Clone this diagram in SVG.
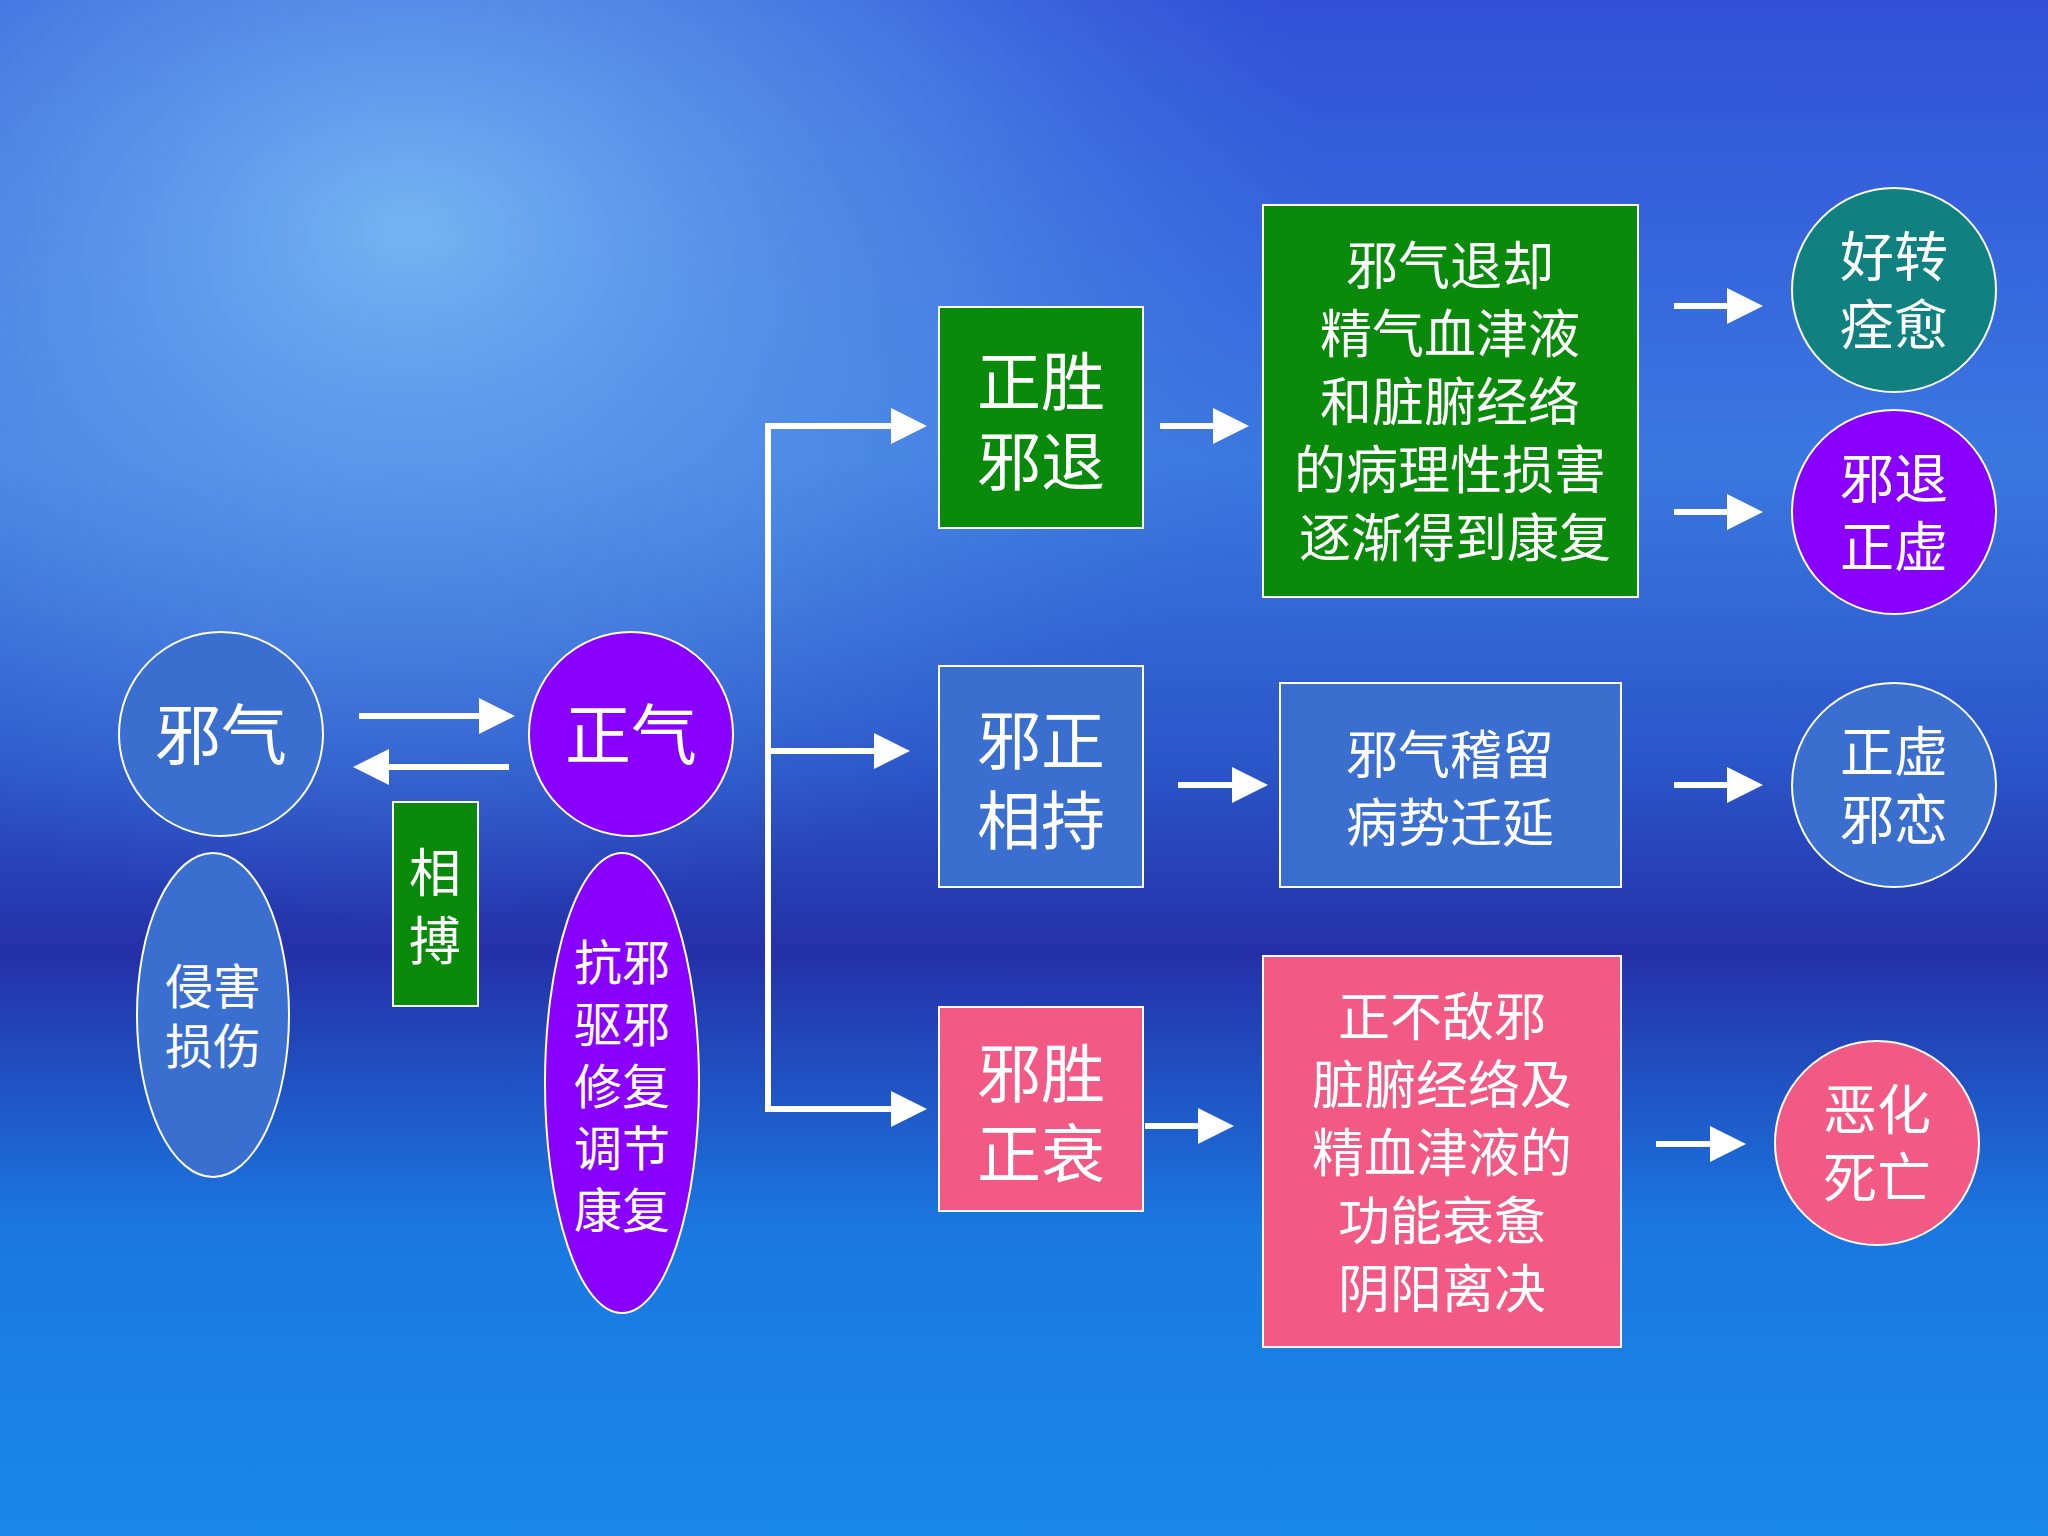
<svg xmlns="http://www.w3.org/2000/svg" width="2048" height="1536" viewBox="0 0 2048 1536">
<defs>
<linearGradient id="bg" x1="0" y1="0" x2="0" y2="1">
<stop offset="0" stop-color="#3050d8"/>
<stop offset="0.3" stop-color="#3a78e0"/>
<stop offset="0.5" stop-color="#2a55c8"/>
<stop offset="0.62" stop-color="#2530a8"/>
<stop offset="0.8" stop-color="#1a78e0"/>
<stop offset="1" stop-color="#1a88e8"/>
</linearGradient>
<radialGradient id="glow" cx="0.2" cy="0.15" r="0.45">
<stop offset="0" stop-color="#78b8f4" stop-opacity="0.95"/>
<stop offset="0.6" stop-color="#5a98ea" stop-opacity="0.5"/>
<stop offset="1" stop-color="#4a80e0" stop-opacity="0"/>
</radialGradient>
<marker id="ah" markerWidth="6" markerHeight="6" refX="5" refY="3" orient="auto" markerUnits="strokeWidth">
<path d="M0,0 L6,3 L0,6 Z" fill="#fff"/>
</marker>
<style>
.t{font-family:"Noto Sans CJK SC",sans-serif;fill:#fff;text-anchor:middle}
.s{stroke:#fff;stroke-width:2}
.c{stroke:#fff;stroke-width:6;fill:none}
.ca{stroke:#fff;stroke-width:6;fill:none;marker-end:url(#ah)}
</style>
</defs>
<rect width="2048" height="1536" fill="url(#bg)"/>
<rect width="2048" height="1536" fill="url(#glow)"/>
<g id="connectors">
<line class="ca" x1="359" y1="716" x2="509" y2="716"/>
<line class="ca" x1="509" y1="767" x2="359" y2="767"/>
<polyline class="c" points="921,426 768,426 768,1109 921,1109"/>
<line class="ca" x1="768" y1="426" x2="921" y2="426"/>
<line class="ca" x1="768" y1="751" x2="904" y2="751"/>
<line class="ca" x1="768" y1="1109" x2="921" y2="1109"/>
<line class="ca" x1="1160" y1="426" x2="1243" y2="426"/>
<line class="ca" x1="1178" y1="785" x2="1262" y2="785"/>
<line class="ca" x1="1145" y1="1126" x2="1228" y2="1126"/>
<line class="ca" x1="1674" y1="306" x2="1757" y2="306"/>
<line class="ca" x1="1674" y1="512" x2="1757" y2="512"/>
<line class="ca" x1="1674" y1="785" x2="1757" y2="785"/>
<line class="ca" x1="1656" y1="1144" x2="1740" y2="1144"/>
</g>
<g id="xieqi"><circle class="s" cx="221" cy="734" r="102" fill="#3a6fd0"/><text class="t" x="221" y="759" font-size="66">邪气</text></g>
<g id="qinhai"><ellipse class="s" cx="213" cy="1015" rx="76" ry="162" fill="#3a6fd0"/><text class="t" font-size="48"><tspan x="213" y="1004">侵害</tspan><tspan x="213" y="1064">损伤</tspan></text></g>
<g id="xiangbo"><rect class="s" x="393" y="802" width="85" height="204" fill="#0a8a0a"/><text class="t" font-size="52"><tspan x="435" y="892">相</tspan><tspan x="435" y="960">搏</tspan></text></g>
<g id="zhengqi"><circle class="s" cx="631" cy="734" r="102" fill="#8a00ff"/><text class="t" x="631" y="759" font-size="66">正气</text></g>
<g id="kangxie"><ellipse class="s" cx="622" cy="1083" rx="77" ry="230" fill="#8a00ff"/><text class="t" font-size="48"><tspan x="622" y="980">抗邪</tspan><tspan x="622" y="1042">驱邪</tspan><tspan x="622" y="1104">修复</tspan><tspan x="622" y="1166">调节</tspan><tspan x="622" y="1228">康复</tspan></text></g>
<g id="zsxt"><rect class="s" x="939" y="307" width="204" height="221" fill="#0a8a0a"/><text class="t" font-size="64"><tspan x="1041" y="405">正胜</tspan><tspan x="1041" y="485">邪退</tspan></text></g>
<g id="xzxc"><rect class="s" x="939" y="666" width="204" height="221" fill="#3a6fd0"/><text class="t" font-size="64"><tspan x="1041" y="764">邪正</tspan><tspan x="1041" y="844">相持</tspan></text></g>
<g id="xszs"><rect class="s" x="939" y="1007" width="204" height="204" fill="#f25a85"/><text class="t" font-size="64"><tspan x="1041" y="1097">邪胜</tspan><tspan x="1041" y="1177">正衰</tspan></text></g>
<g id="green"><rect class="s" x="1263" y="205" width="375" height="392" fill="#0a8a0a"/><text class="t" font-size="52"><tspan x="1450" y="285">邪气退却</tspan><tspan x="1450" y="353">精气血津液</tspan><tspan x="1450" y="421">和脏腑经络</tspan><tspan x="1450" y="489">的病理性损害</tspan><tspan x="1455" y="557">逐渐得到康复</tspan></text></g>
<g id="blue"><rect class="s" x="1280" y="683" width="341" height="204" fill="#3a6fd0"/><text class="t" font-size="52"><tspan x="1450" y="774">邪气稽留</tspan><tspan x="1450" y="842">病势迁延</tspan></text></g>
<g id="pink"><rect class="s" x="1263" y="956" width="358" height="391" fill="#f25a85"/><text class="t" font-size="52"><tspan x="1442" y="1036">正不敌邪</tspan><tspan x="1442" y="1104">脏腑经络及</tspan><tspan x="1442" y="1172">精血津液的</tspan><tspan x="1442" y="1240">功能衰惫</tspan><tspan x="1442" y="1308">阴阳离决</tspan></text></g>
<g id="haozhuan"><circle class="s" cx="1894" cy="290" r="102" fill="#108080"/><text class="t" font-size="54"><tspan x="1894" y="277">好转</tspan><tspan x="1894" y="345">痊愈</tspan></text></g>
<g id="xietui"><circle class="s" cx="1894" cy="512" r="102" fill="#8a00ff"/><text class="t" font-size="54"><tspan x="1894" y="499">邪退</tspan><tspan x="1894" y="567">正虚</tspan></text></g>
<g id="zhengxu"><circle class="s" cx="1894" cy="785" r="102" fill="#3a6fd0"/><text class="t" font-size="54"><tspan x="1894" y="772">正虚</tspan><tspan x="1894" y="840">邪恋</tspan></text></g>
<g id="ehua"><circle class="s" cx="1877" cy="1143" r="102" fill="#f25a85"/><text class="t" font-size="54"><tspan x="1877" y="1130">恶化</tspan><tspan x="1877" y="1198">死亡</tspan></text></g>
</svg>
